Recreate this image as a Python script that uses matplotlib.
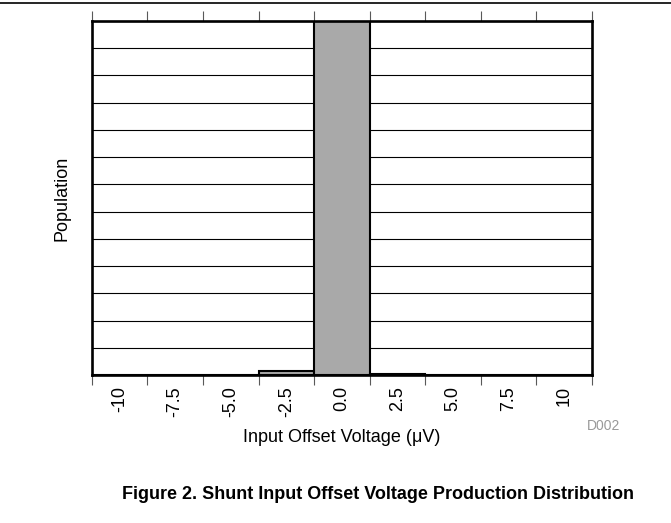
import numpy as np
import matplotlib.pyplot as plt

plt.rcParams["font.family"] = ["Liberation Sans", "DejaVu Sans"]

# histogram bins (centre labels) and population counts
bins = ["-10", "-7.5", "-5.0", "-2.5", "0.0", "2.5", "5.0", "7.5", "10"]
population = [0, 0, 0, 15, 1300, 5, 0, 0, 0]
grid_step = 100

fig = plt.figure(figsize=(6.71, 5.23), dpi=100)
ax = fig.add_axes([0.137, 0.283, 0.745, 0.677])

x = np.arange(len(bins))
ax.bar(x, population, width=1.0, color="#a9a9a9", edgecolor="black",
       linewidth=1.5, zorder=3)

ax.set_xlim(-0.5, len(bins) - 0.5)
ax.set_ylim(0, max(population))

# ticks on bin edges (top and bottom), labels at bin centres
ax.set_xticks(np.arange(len(bins) + 1) - 0.5)
ax.set_xticklabels([])
ax.set_xticks(x, minor=True)
ax.set_xticklabels(bins, minor=True, rotation=90, fontsize=13)
ax.tick_params(axis="x", which="major", direction="out", length=7,
               width=0.8, color="0.35", top=True, bottom=True)
ax.tick_params(axis="x", which="minor", length=0, pad=8)

# horizontal grid, no y tick labels
ax.set_yticks(np.arange(0, max(population) + 1, grid_step))
ax.set_yticklabels([])
ax.tick_params(axis="y", length=0)
ax.grid(axis="y", color="black", linewidth=0.8, zorder=1)

for s in ax.spines.values():
    s.set_linewidth(1.9)
    s.set_zorder(4)

ax.set_xlabel("Input Offset Voltage (\u03bcV)", fontsize=13, labelpad=9)
ax.set_ylabel("Population", fontsize=13, labelpad=12)

fig.text(0.899, 0.186, "D002", color="0.6", fontsize=10, ha="center", va="center")
fig.text(0.5626, 0.055, "Figure 2. Shunt Input Offset Voltage Production Distribution",
         fontsize=13, fontweight="bold", ha="center", va="center")

# rule across the top of the page
fig.add_artist(plt.Line2D([0, 1], [0.994, 0.994], color="black", linewidth=1.2))

plt.savefig("out.png", dpi=100)
plt.close()
